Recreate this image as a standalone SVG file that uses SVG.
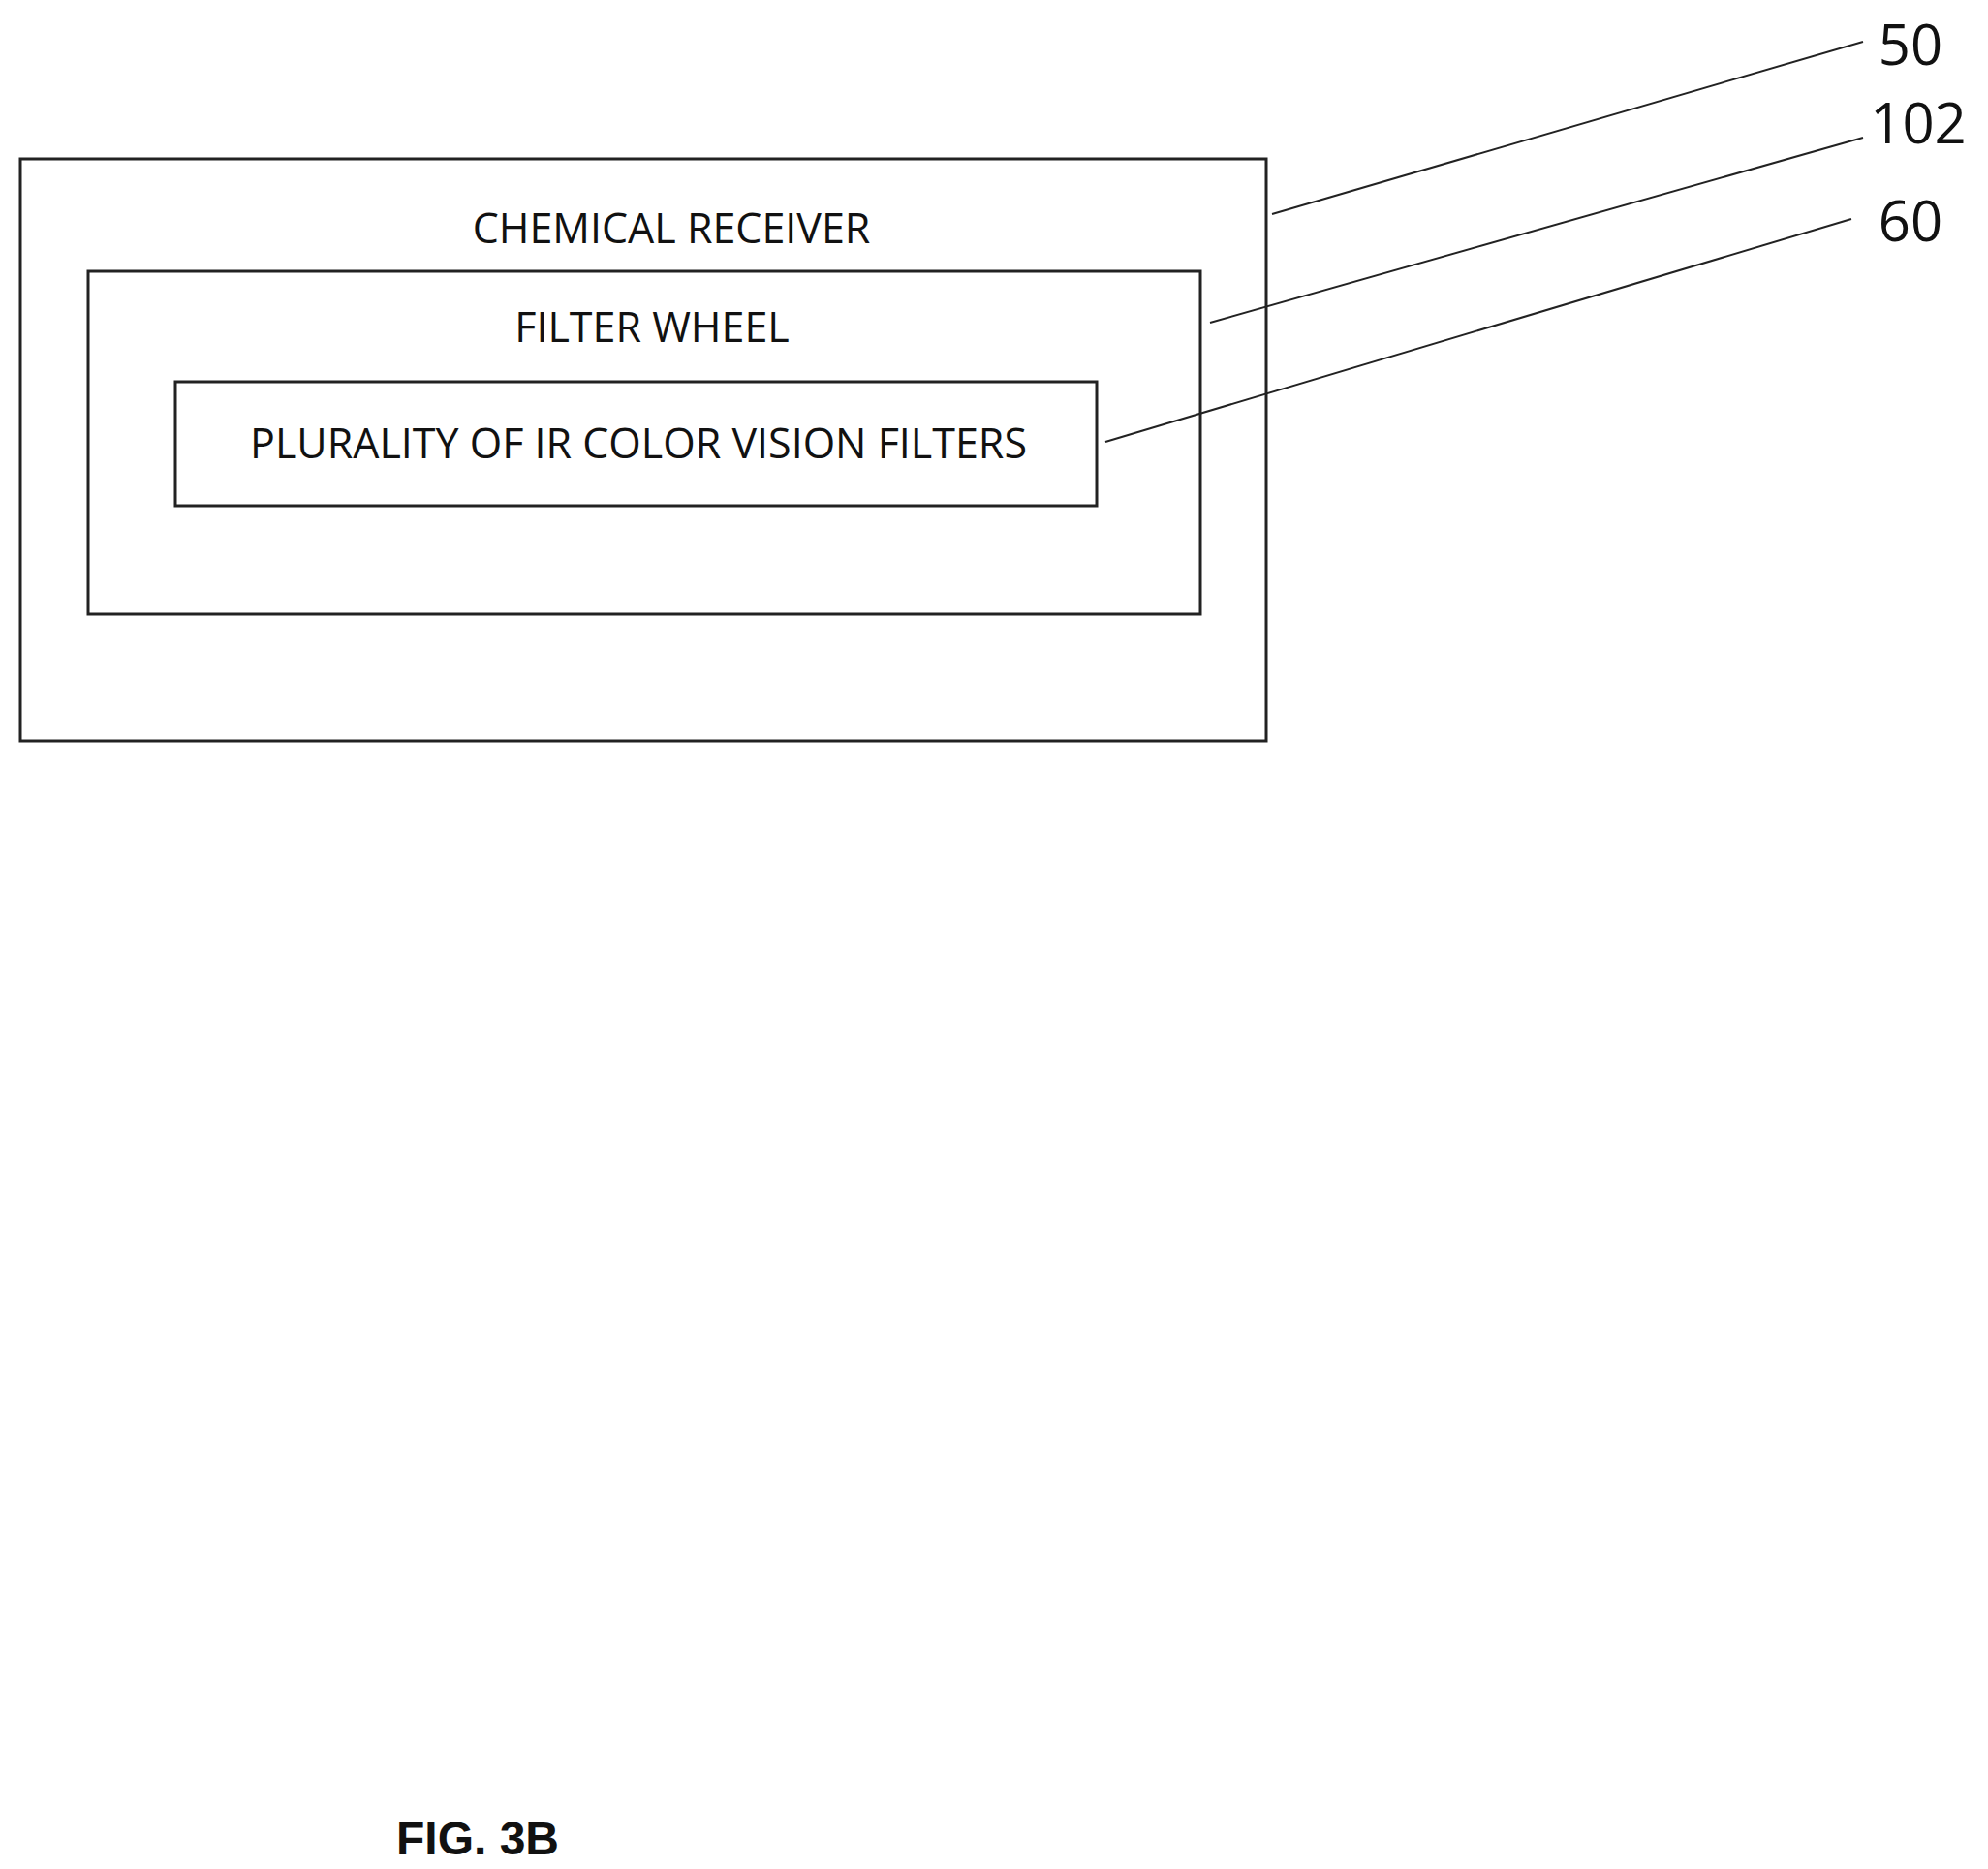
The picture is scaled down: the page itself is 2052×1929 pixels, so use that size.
<svg xmlns="http://www.w3.org/2000/svg" width="2052" height="1929" viewBox="0 0 2052 1929">
<style>
.box{fill:none;stroke:#222;stroke-width:3}
.lead{stroke:#222;stroke-width:2;fill:none}
.t{font-family:"Open Sans","Liberation Sans",sans-serif;font-size:43px;fill:#111;text-anchor:middle}
.n{font-family:"Open Sans","Liberation Sans",sans-serif;font-size:58px;fill:#111;text-anchor:middle}
</style>
<rect width="2052" height="1929" fill="#fff"/>
<g id="receiver"><rect class="box" x="21" y="164" width="1286" height="601"/><text class="t" x="693" y="251">CHEMICAL RECEIVER</text></g>
<g id="wheel"><rect class="box" x="91" y="280" width="1148" height="354"/><text class="t" x="673" y="353">FILTER WHEEL</text></g>
<g id="filters"><rect class="box" x="181" y="394" width="951" height="128"/><text class="t" x="659" y="473">PLURALITY OF IR COLOR VISION FILTERS</text></g>
<g id="connectors">
<line class="lead" x1="1313" y1="221" x2="1923" y2="43"/>
<line class="lead" x1="1249" y1="333" x2="1923" y2="142"/>
<line class="lead" x1="1141" y1="456" x2="1911" y2="226"/>
</g>
<g id="labels">
<text class="n" x="1972" y="67">50</text>
<text class="n" x="1980" y="148">102</text>
<text class="n" x="1972" y="249">60</text>
<text x="493" y="1914" font-family="Liberation Sans,Arial,sans-serif" font-weight="bold" font-size="48" text-anchor="middle" fill="#111">FIG. 3B</text>
</g>
</svg>
